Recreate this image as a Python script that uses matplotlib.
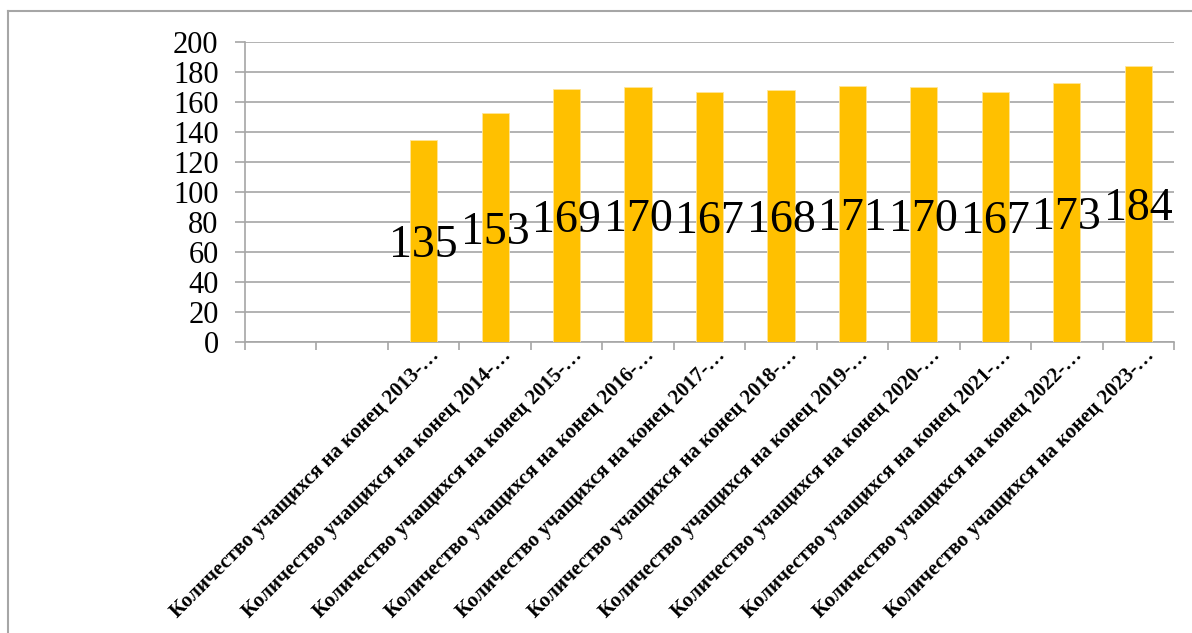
import numpy as np
import matplotlib
matplotlib.use("Agg")
import matplotlib.pyplot as plt
from matplotlib.lines import Line2D
from matplotlib.transforms import ScaledTranslation

# two empty category slots at the start, then the school years
years = ["", "", "2013", "2014", "2015", "2016", "2017", "2018",
         "2019", "2020", "2021", "2022", "2023"]
counts = [None, None, 135, 153, 169, 170, 167, 168, 171, 170, 167, 173, 184]
tick_labels = ["" if y == "" else "Количество учащихся на конец " + y + "-…" for y in years]

BAR = "#FFC000"
GRID = "#A6A6A6"
SERIF = ["Liberation Serif", "DejaVu Serif"]

fig = plt.figure(figsize=(11.92, 6.33), dpi=100)
ax = fig.add_axes([0.2055, 0.4597, 0.7794, 0.4739])

x = np.arange(len(years))
vals = np.array([np.nan if v is None else v for v in counts], dtype=float)
bars = ax.bar(x, np.nan_to_num(vals), width=0.38, color=BAR, edgecolor="#FFE699",
              linewidth=0.6, zorder=3)

# value labels in the middle of each bar
for xi, v in zip(x, vals):
    if np.isfinite(v):
        ax.text(xi, v / 2, f"{int(v)}", ha="center", va="center_baseline",
                fontsize=33, family=SERIF, zorder=4)

ax.set_xlim(-0.5, len(years) - 0.5)
ax.set_ylim(0, 200)
ax.set_yticks(np.arange(0, 201, 20))
ax.yaxis.grid(True, color=GRID, linewidth=1.2, zorder=0)
ax.set_axisbelow(True)

for s in ["top", "right"]:
    ax.spines[s].set_visible(False)
for s in ["left", "bottom"]:
    ax.spines[s].set_color(GRID)
    ax.spines[s].set_linewidth(1.2)

ax.tick_params(axis="y", length=7, width=1.2, color=GRID, labelsize=22, pad=12)
for lab in ax.get_yticklabels():
    lab.set_family(SERIF)

# ticks at category boundaries, labels at category centres
ax.set_xticks(np.arange(-0.5, len(years), 1.0))
ax.set_xticklabels([])
ax.tick_params(axis="x", length=6, width=1.2, color=GRID)
ax.set_xticks(x, minor=True)
ax.tick_params(axis="x", which="minor", length=0)
off = ScaledTranslation(13 / 100, -6 / 100, fig.dpi_scale_trans)
ax.set_xticklabels(tick_labels, minor=True)
for lab in ax.get_xticklabels(minor=True):
    lab.set_rotation(45)
    lab.set_rotation_mode("anchor")
    lab.set_ha("right")
    lab.set_va("center")
    lab.set_fontsize(15)
    lab.set_fontweight("bold")
    lab.set_family(SERIF)
    lab.set_transform(lab.get_transform() + off)

# chart-area border (top and left only)
fig.add_artist(Line2D([8 / 1192, 1], [1 - 11 / 633] * 2, color="#A6A6A6", lw=1.5,
                      transform=fig.transFigure))
fig.add_artist(Line2D([8 / 1192] * 2, [0, 1 - 11 / 633], color="#A6A6A6", lw=1.5,
                      transform=fig.transFigure))

fig.savefig("out.png", dpi=100)
